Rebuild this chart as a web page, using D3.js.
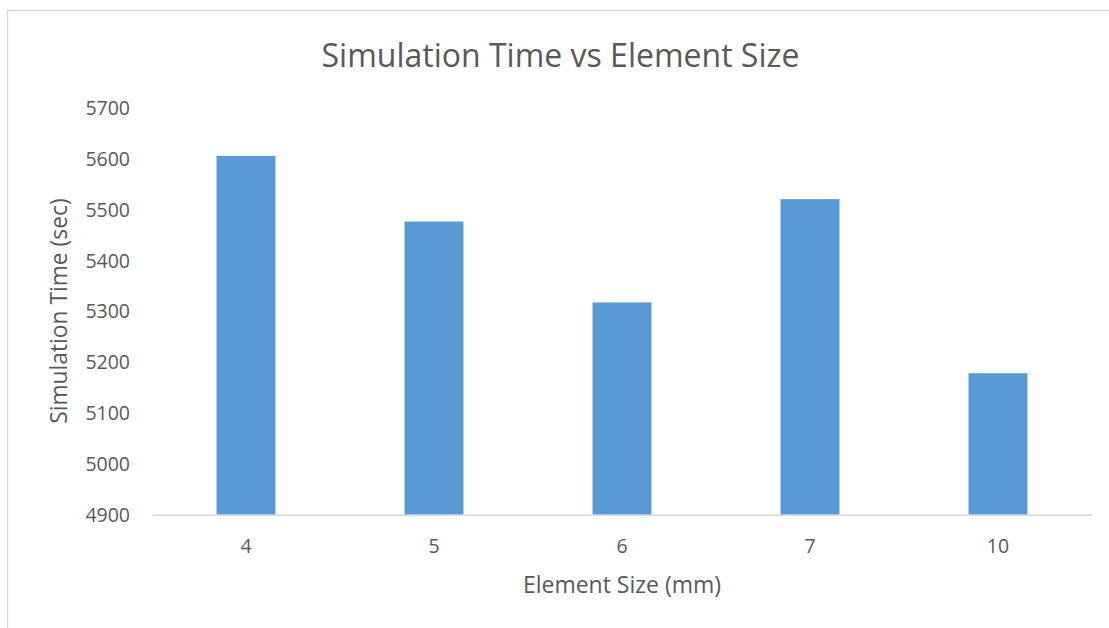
<!DOCTYPE html>
<html>
<head>
<meta charset="utf-8">
<script src="https://cdn.jsdelivr.net/npm/d3@7"></script>
<style>
  html, body { margin: 0; padding: 0; background: #fff; }
  svg { display: block; }
  text { font-family: "Open Sans", "Noto Sans", sans-serif; fill: #595959; }
</style>
</head>
<body>
<svg id="chart" width="1109" height="628"></svg>
<script>
// Chart data
const categories = ["4", "5", "6", "7", "10"];
const simTimes = [5605, 5476, 5317, 5520, 5178];
const yTicks = [4900, 5000, 5100, 5200, 5300, 5400, 5500, 5600, 5700];
const chartTitle = "Simulation Time vs Element Size";
const xTitle = "Element Size (mm)";
const yTitle = "Simulation Time (sec)";

const W = 1109, H = 628;
const plot = { left: 152, right: 1092, top: 107.5, bottom: 514.7 };

const svg = d3.select("#chart");

// Chart frame
svg.append("rect")
  .attr("x", 7.5).attr("y", 10.5)
  .attr("width", W + 10).attr("height", H + 10)
  .attr("fill", "#fff")
  .attr("stroke", "#d9d9d9").attr("stroke-width", 1.5);

// Excel-style gap width of 219%: bar = step / 3.19
const gap = 1 - 1 / 3.19;
const x = d3.scaleBand()
  .domain(categories)
  .range([plot.left, plot.right])
  .paddingInner(gap)
  .paddingOuter(gap / 2);

const y = d3.scaleLinear()
  .domain([4900, 5700])
  .range([plot.bottom, plot.top]);

// Bars
svg.append("g")
  .selectAll("rect")
  .data(categories.map((c, i) => ({ c, v: simTimes[i] })))
  .join("rect")
  .attr("x", d => x(d.c))
  .attr("y", d => y(d.v))
  .attr("width", x.bandwidth())
  .attr("height", d => y(4900) - y(d.v))
  .attr("fill", "#5b9bd5");

// Y axis (labels only)
const yAxis = d3.axisLeft(y).tickValues(yTicks).tickFormat(d3.format("d"))
  .tickSize(0).tickPadding(0);
const gy = svg.append("g")
  .attr("transform", `translate(${plot.left - 22},0)`)
  .call(yAxis);
gy.select(".domain").remove();
gy.selectAll("text")
  .style("font-size", "19.5px")
  .attr("dy", "0.35em");

// X axis
const xAxis = d3.axisBottom(x).tickSize(0).tickPadding(0);
const gx = svg.append("g")
  .attr("transform", `translate(0,${plot.bottom})`)
  .call(xAxis);
gx.select(".domain").attr("stroke", "#d9d9d9").attr("stroke-width", 1.5);
gx.selectAll("text")
  .style("font-size", "19.5px")
  .attr("y", 31)
  .attr("dy", "0.35em");

// Titles
svg.append("text")
  .attr("x", 560.5)
  .attr("y", 67)
  .attr("text-anchor", "middle")
  .style("font-size", "32px")
  .text(chartTitle);

svg.append("text")
  .attr("x", (plot.left + plot.right) / 2)
  .attr("y", 593)
  .attr("text-anchor", "middle")
  .style("font-size", "23px")
  .text(xTitle);

svg.append("text")
  .attr("transform", `translate(67,${(plot.top + plot.bottom) / 2}) rotate(-90)`)
  .attr("text-anchor", "middle")
  .style("font-size", "22.8px")
  .text(yTitle);
</script>
</body>
</html>
